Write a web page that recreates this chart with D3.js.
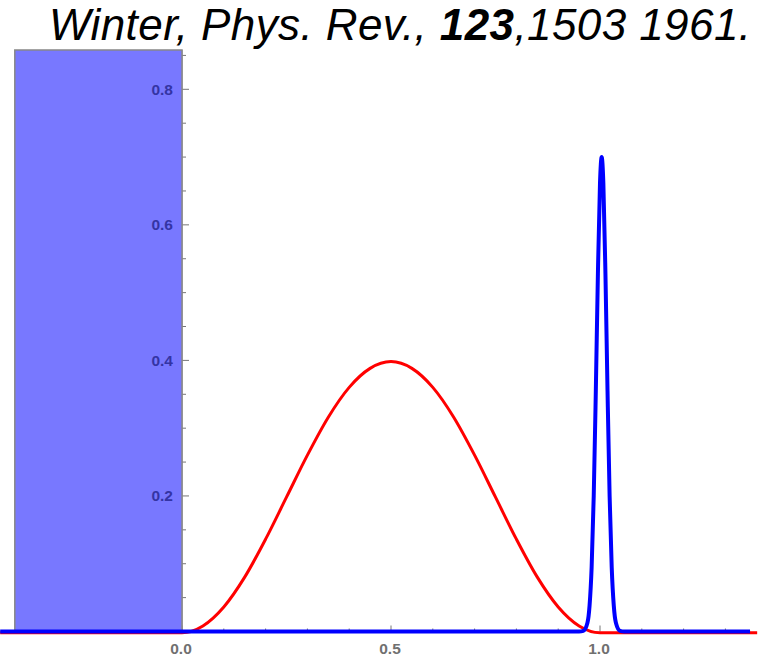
<!DOCTYPE html>
<html>
<head>
<meta charset="utf-8">
<script src="https://cdn.jsdelivr.net/npm/d3@7"></script>
<style>
  body { margin: 0; background: #fff; }
  svg { display: block; }
</style>
</head>
<body>
<div id="chart"></div>
<script>
// values
const redX = [-0.435, 0, 0.05, 0.1, 0.15, 0.2, 0.25, 0.3, 0.35, 0.4, 0.45, 0.5, 0.55, 0.6, 0.65, 0.7, 0.75, 0.8, 0.85, 0.9, 0.95, 1.0, 1.376]
const redY = [0, 0, 0.01, 0.038, 0.082, 0.138, 0.2, 0.262, 0.318, 0.362, 0.39, 0.4, 0.39, 0.362, 0.318, 0.262, 0.2, 0.138, 0.082, 0.038, 0.01, 0, 0]

const blueX = [-0.435, 0.95, 0.96, 0.97, 0.975, 0.98, 0.985, 0.99, 0.995, 1.0, 1.004, 1.008, 1.013, 1.018, 1.023, 1.028, 1.033, 1.038, 1.048, 1.058, 1.359]
const blueY = [0, 0, 0.001, 0.013, 0.038, 0.095, 0.2, 0.355, 0.528, 0.662, 0.7, 0.662, 0.528, 0.355, 0.2, 0.095, 0.038, 0.013, 0.001, 0, 0]

const shadeX = [-0.4, 0]
const shadeTop = 0.858

const xTicks = [0, 0.5, 1.0]
const xMinor = [0.1, 0.2, 0.3, 0.4, 0.6, 0.7, 0.8, 0.9, 1.1, 1.2, 1.3]
const yTicks = [0.2, 0.4, 0.6, 0.8]
const yMinor = [0.05, 0.1, 0.15, 0.25, 0.3, 0.35, 0.45, 0.5, 0.55, 0.65, 0.7, 0.75, 0.85]

const titleParts = [
  {text: "Winter, Phys. Rev., ", bold: false},
  {text: "123", bold: true},
  {text: ",1503 1961.", bold: false}
]

drawChart("#chart")

function drawChart(id){
    const canvas = {width: 768, height: 660}
    const svg = d3.select(id).append("svg")
      .attr("width", canvas.width).attr("height", canvas.height)

    const x = d3.scaleLinear().domain([0, 1]).range([182, 600])
    const y = d3.scaleLinear().domain([0, 0.8]).range([631.5, 89.3])

    drawTitle(svg)
    drawAxes(svg, x, y)
    drawShade(svg, x, y)
    drawCurves(svg, x, y)
}

function drawTitle(svg){
    const t = svg.append("text").attr("x", 49).attr("y", 40)
      .attr("font-family", "Liberation Sans, Arial, sans-serif")
      .attr("font-style", "italic").attr("font-size", "44px").attr("fill", "#000")
      .attr("textLength", 702).attr("lengthAdjust", "spacing")
    t.selectAll("tspan").data(titleParts).enter().append("tspan")
      .attr("font-weight", d => d.bold ? "bold" : "normal")
      .text(d => d.text)
}

function drawAxes(svg, x, y){
    const g = svg.append("g").attr("stroke", "#777").attr("stroke-width", 1)

    // y axis line
    g.append("line").attr("x1", x(0)).attr("x2", x(0))
      .attr("y1", y(shadeTop)).attr("y2", y(0))

    g.selectAll(".ymaj").data(yTicks).enter().append("line")
      .attr("x1", x(0)).attr("x2", x(0) + 7).attr("y1", d => y(d)).attr("y2", d => y(d))
    g.selectAll(".ymin").data(yMinor).enter().append("line")
      .attr("x1", x(0)).attr("x2", x(0) + 4).attr("y1", d => y(d)).attr("y2", d => y(d))

    g.selectAll(".xmaj").data(xTicks).enter().append("line")
      .attr("x1", d => x(d)).attr("x2", d => x(d)).attr("y1", y(0)).attr("y2", y(0) - 6)
    g.selectAll(".xmin").data(xMinor).enter().append("line")
      .attr("x1", d => x(d)).attr("x2", d => x(d)).attr("y1", y(0)).attr("y2", y(0) - 3)

    svg.selectAll(".xlab").data(xTicks).enter().append("text")
      .attr("x", d => x(d) - 1).attr("y", 654).attr("text-anchor", "middle")
      .attr("font-family", "Liberation Sans, Arial, sans-serif").attr("font-weight", "bold")
      .attr("font-size", "15.5px").attr("fill", "#707070")
      .text(d => d3.format(".1f")(d))
}

function drawShade(svg, x, y){
    svg.append("rect")
      .attr("x", x(shadeX[0])).attr("y", y(shadeTop))
      .attr("width", x(shadeX[1]) - x(shadeX[0])).attr("height", y(0) - y(shadeTop))
      .attr("fill", "#7878ff").attr("stroke", "#888").attr("stroke-width", 1.5)

    svg.selectAll(".ylab").data(yTicks).enter().append("text")
      .attr("x", x(0) - 9).attr("y", d => y(d) + 5.5).attr("text-anchor", "end")
      .attr("font-family", "Liberation Sans, Arial, sans-serif").attr("font-weight", "bold")
      .attr("font-size", "15.5px").attr("fill", "#3434a4")
      .text(d => d3.format(".1f")(d))
}

function drawCurves(svg, x, y){
    const red = redX.map((d, i) => [d, redY[i]])
    const blue = blueX.map((d, i) => [d, blueY[i]])

    const line = d3.line().x(d => x(d[0])).y(d => y(d[1])).curve(d3.curveMonotoneX)

    svg.append("path").attr("d", line(red)).attr("transform", "translate(0,1.2)")
      .attr("fill", "none").attr("stroke", "#ff0000").attr("stroke-width", 3)
      .attr("stroke-linejoin", "round")
    svg.append("path").attr("d", line(blue))
      .attr("fill", "none").attr("stroke", "#0000ff").attr("stroke-width", 4)
      .attr("stroke-linejoin", "round")
}
</script>
</body>
</html>
